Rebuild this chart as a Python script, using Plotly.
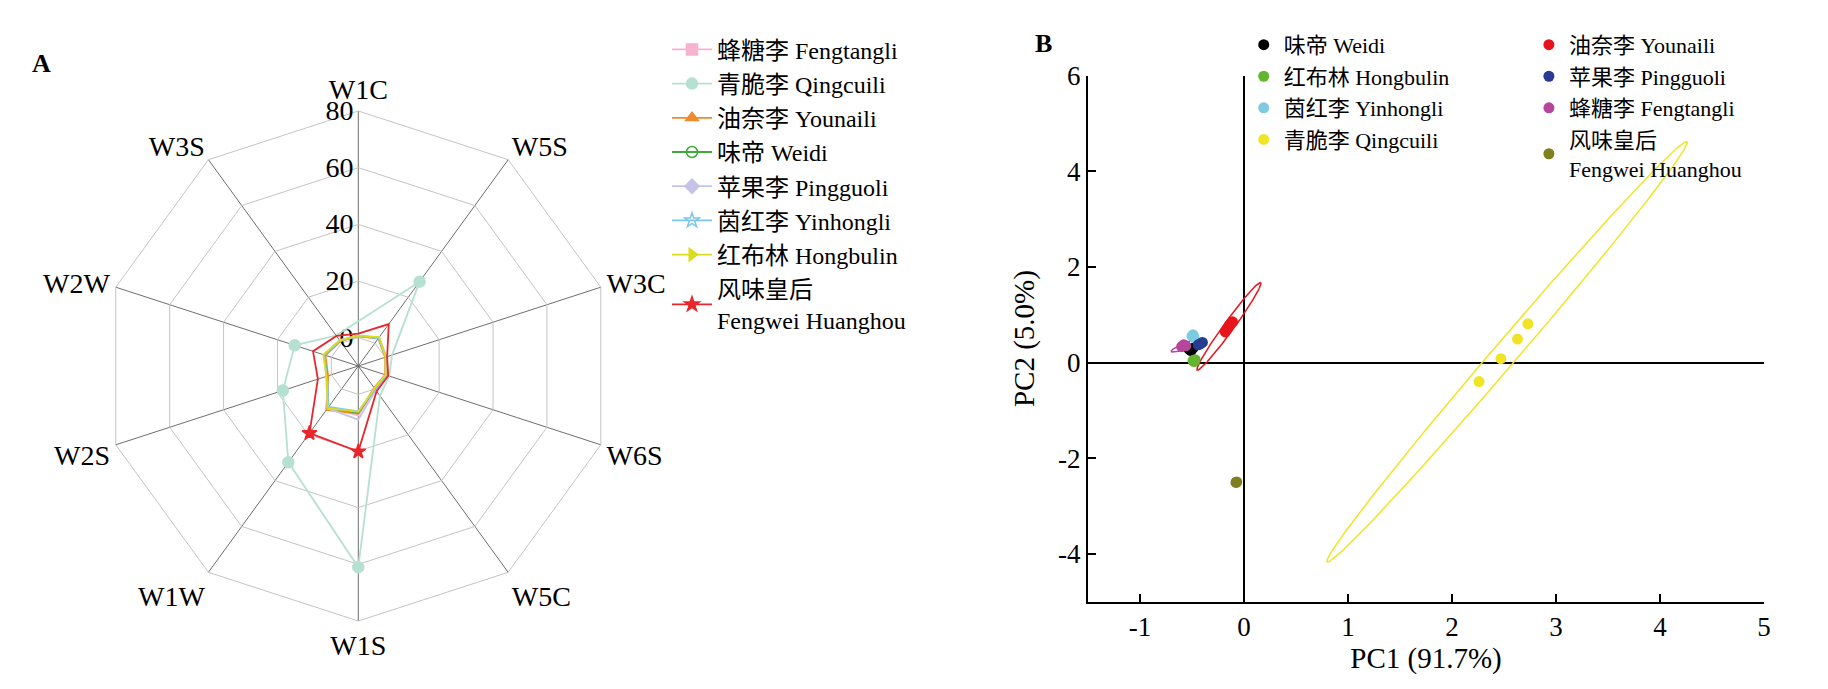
import numpy as np
import plotly.graph_objects as go

FONT = "Liberation Serif, Noto Sans CJK SC, serif"
W, H = 1828, 689
OFF = 8  # page body offset of the figure div


def fx(px):
    return (px - OFF) / W


def fy(py):
    return 1 - (py - OFF) / H


# ---------------- Radar data (panel A) ----------------
sensors = ["W1C", "W5S", "W3C", "W6S", "W5C", "W1S", "W1W", "W2S", "W2W", "W3S"]
radar_ticks = [0, 20, 40, 60, 80]

radar_names = ["蜂糖李 Fengtangli", "青脆李 Qingcuili", "油奈李 Younaili", "味帝 Weidi",
               "苹果李 Pingguoli", "茵红李 Yinhongli", "红布林 Hongbulin",
               "风味皇后<br>Fengwei Huanghou"]
fengtangli = [0.8, 2.2, 0.3, 0.5, 0.2, 7.5, 8.0, 1.5, 2.5, 1.2]
qingcuili = [5.8, 26.8, 2.5, 1.5, 3.0, 61.0, 32.0, 18.0, 13.6, 3.3]
younaili = [0.5, 2.0, 0.0, 0.0, -0.5, 6.8, 9.2, 1.2, 2.2, 0.8]
weidi = [0.6, 2.3, 0.2, 0.3, 0.0, 6.5, 8.2, 1.6, 2.7, 1.0]
pingguoli = [0.7, 2.4, 0.5, 0.6, 0.5, 8.9, 8.5, 1.9, 2.8, 1.3]
yinhongli = [0.6, 2.1, 0.2, 0.4, 0.1, 6.0, 7.8, 1.7, 2.6, 1.0]
hongbulin = [0.7, 2.6, 0.1, 0.2, -0.3, 6.2, 8.4, 1.8, 3.0, 1.1]
fengwei = [1.4, 8.3, 0.7, 1.1, 1.0, 20.2, 19.3, 5.0, 6.8, 3.1]
radar_values = [fengtangli, qingcuili, younaili, weidi, pingguoli, yinhongli, hongbulin, fengwei]

radar_colors = ["#f5b3cf", "#b5e0d2", "#f08a2c", "#3faa3a", "#c6c3e6", "#7cc6f0", "#dcdc1e", "#e8262b"]
radar_symbols = ["square", "circle", "triangle-up", "circle-open", "diamond", "star-open",
                 "triangle-right", "star"]

# ---------------- PCA data (panel B) ----------------
pc1_ticks = [-1, 0, 1, 2, 3, 4, 5]
pc2_ticks = [-4, -2, 0, 2, 4, 6]

pca_names = ["味帝 Weidi", "红布林 Hongbulin", "茵红李 Yinhongli", "青脆李 Qingcuili",
             "油奈李 Younaili", "苹果李 Pingguoli", "蜂糖李 Fengtangli",
             "风味皇后<br>Fengwei Huanghou"]
pca_colors = ["#000000", "#62b52f", "#7ccbe0", "#f0e424", "#e8141c", "#283c91", "#b5469c", "#7f7f1e"]
pca_x = [
    [-0.51, -0.49, -0.53],
    [-0.49, -0.47, -0.48],
    [-0.49, -0.48, -0.50],
    [2.73, 2.63, 2.47, 2.26],
    [-0.18, -0.14, -0.11, -0.16],
    [-0.42, -0.40, -0.44],
    [-0.58, -0.56, -0.60],
    [-0.077, -0.07],
]
pca_y = [
    [0.25, 0.30, 0.28],
    [0.04, 0.06, 0.02],
    [0.58, 0.52, 0.55],
    [0.81, 0.49, 0.08, -0.40],
    [0.64, 0.78, 0.85, 0.71],
    [0.39, 0.42, 0.37],
    [0.37, 0.35, 0.33],
    [-2.51, -2.50],
]
# confidence ellipses: group index, centre, half-major vector, half-minor vector (data units)
ell_group = [3, 4, 6, 5, 0]
ell_cx = [2.53, -0.145, -0.545, -0.43, -0.51]
ell_cy = [0.225, 0.755, 0.36, 0.39, 0.27]
ell_ax = [1.73, 0.305, 0.155, 0.07, 0.04]
ell_ay = [4.395, 0.915, 0.13, 0.03, 0.02]
ell_bx = [0.0877, 0.039, 0.0104, 0.008, 0.006]
ell_by = [-0.163, -0.062, -0.0586, -0.04, -0.03]

fig = go.Figure()

# ---- radar traces ----
for name, vals, col, sym in zip(radar_names, radar_values, radar_colors, radar_symbols):
    fig.add_trace(go.Scatterpolar(
        r=vals + vals[:1], theta=sensors + sensors[:1], name=name,
        mode="lines+markers",
        line=dict(color=col, width=1.8),
        marker=dict(symbol=sym, size=11, color=col, line=dict(color=col, width=1.5)),
        legend="legend", subplot="polar",
    ))

# ---- PCA traces ----
t = np.linspace(0, 2 * np.pi, 241)
for g, cx, cy, ax_, ay_, bx_, by_ in zip(ell_group, ell_cx, ell_cy, ell_ax, ell_ay, ell_bx, ell_by):
    fig.add_trace(go.Scatter(
        x=cx + ax_ * np.cos(t) + bx_ * np.sin(t),
        y=cy + ay_ * np.cos(t) + by_ * np.sin(t),
        mode="lines", line=dict(color=pca_colors[g], width=1.5),
        showlegend=False, hoverinfo="skip", xaxis="x", yaxis="y",
    ))

for i, (name, xs, ys, col) in enumerate(zip(pca_names, pca_x, pca_y, pca_colors)):
    fig.add_trace(go.Scatter(
        x=xs, y=ys, name=name, mode="markers",
        marker=dict(color=col, size=11),
        legend="legend2" if i < 4 else "legend3",
        xaxis="x", yaxis="y",
    ))

cxp, cyp, Rp = 358.3, 366.0, 255.0   # radar centre / outer radius in page pixels

fig.update_layout(
    width=W, height=H,
    margin=dict(l=0, r=0, t=0, b=0, pad=0, autoexpand=False),
    paper_bgcolor="white", plot_bgcolor="white",
    font=dict(family=FONT, size=26, color="black"),
    polar=dict(
        domain=dict(x=[fx(cxp - Rp), fx(cxp + Rp)], y=[fy(cyp + Rp), fy(cyp - Rp)]),
        bgcolor="white",
        gridshape="linear",
        radialaxis=dict(
            range=[-10, 80], tickvals=radar_ticks, angle=90, tickangle=90,
            side="counterclockwise",
            showline=False, ticks="", gridcolor="#c4c4c4", gridwidth=1,
            tickfont=dict(size=28, family=FONT), layer="below traces",
        ),
        angularaxis=dict(
            categoryarray=sensors, categoryorder="array",
            rotation=90, direction="clockwise",
            showline=True, linecolor="#c4c4c4", linewidth=1,
            gridcolor="#6e6e6e", gridwidth=1, ticks="",
            tickfont=dict(size=28, family=FONT), layer="below traces",
        ),
    ),
    xaxis=dict(
        domain=[fx(1088), fx(1764)], range=[-1.5, 5],
        tickvals=pc1_ticks, ticktext=[str(v) for v in pc1_ticks],
        ticks="inside", ticklen=8, tickwidth=2, tickcolor="black",
        showline=True, linecolor="black", linewidth=2,
        showgrid=False, zeroline=True, zerolinecolor="black", zerolinewidth=2,
        tickfont=dict(size=27, family=FONT),
        title=dict(text="PC1 (91.7%)", font=dict(size=29, family=FONT), standoff=4),
        anchor="y", automargin=False,
    ),
    yaxis=dict(
        domain=[fy(601.5), fy(75.7)], range=[-5, 6],
        tickvals=pc2_ticks, ticktext=[str(v) for v in pc2_ticks],
        ticks="inside", ticklen=8, tickwidth=2, tickcolor="black",
        showline=True, linecolor="black", linewidth=2,
        showgrid=False, zeroline=True, zerolinecolor="black", zerolinewidth=2,
        tickfont=dict(size=27, family=FONT),
        title=dict(text="PC2 (5.0%)", font=dict(size=29, family=FONT), standoff=15),
        anchor="x", automargin=False,
    ),
    legend=dict(
        x=0.3605, y=0.972, xanchor="left", yanchor="top",
        font=dict(size=24, family=FONT), bgcolor="rgba(0,0,0,0)",
        tracegroupgap=0, itemwidth=40,
    ),
    legend2=dict(
        x=0.676, y=0.977, xanchor="left", yanchor="top",
        font=dict(size=22, family=FONT), bgcolor="rgba(0,0,0,0)",
        tracegroupgap=0, itemwidth=30,
    ),
    legend3=dict(
        x=0.832, y=0.977, xanchor="left", yanchor="top",
        font=dict(size=22, family=FONT), bgcolor="rgba(0,0,0,0)",
        tracegroupgap=0, itemwidth=30,
    ),
    annotations=[
        dict(text="<b>A</b>", x=fx(41), y=fy(64), xref="paper", yref="paper",
             xanchor="center", yanchor="middle",
             showarrow=False, font=dict(size=26, family=FONT)),
        dict(text="<b>B</b>", x=fx(1043), y=fy(44), xref="paper", yref="paper",
             xanchor="center", yanchor="middle",
             showarrow=False, font=dict(size=26, family=FONT)),
    ],
)

fig.write_html("out.html")
